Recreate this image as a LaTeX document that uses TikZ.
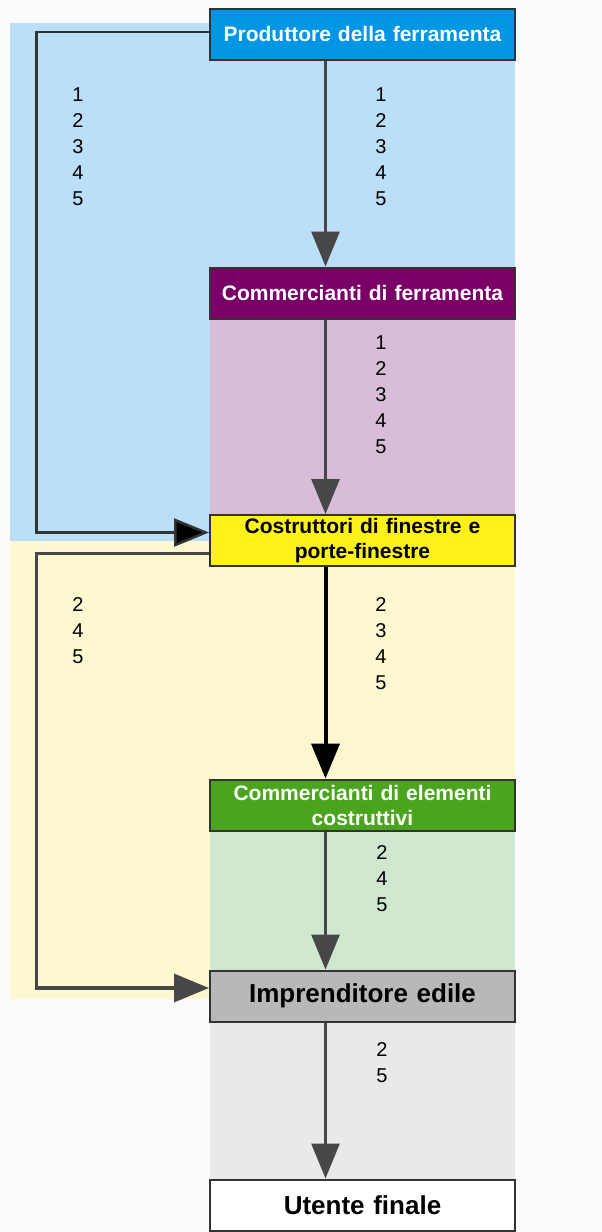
\documentclass[tikz,border=0pt]{standalone}
\usepackage{fontspec}
\setmainfont{Liberation Sans}
\usetikzlibrary{arrows.meta}
\definecolor{pageback}{HTML}{FBFBFB}
\definecolor{boxline}{HTML}{333333}
\definecolor{arrowgray}{HTML}{474747}
\definecolor{prodblue}{HTML}{0096E6}
\definecolor{prodlight}{HTML}{BBDEF9}
\definecolor{commpurple}{HTML}{7A0068}
\definecolor{commlight}{HTML}{D9BDD8}
\definecolor{costryellow}{HTML}{FFF21C}
\definecolor{costrlight}{HTML}{FDF8CF}
\definecolor{elemgreen}{HTML}{4AA41E}
\definecolor{elemlight}{HTML}{CFE6CF}
\definecolor{imprgray}{HTML}{B8B8B8}
\definecolor{imprlight}{HTML}{E9E9E9}
\tikzset{
  chainbox/.style={draw=boxline,line width=2pt,minimum width=305pt,minimum height=51pt,
    align=center,text width=295pt,inner sep=0pt,font=\fontsize{21}{25}\selectfont\bfseries},
  bigbox/.style={chainbox,font=\fontsize{26}{30}\selectfont\bfseries},
  flow/.style={arrowgray,line width=3pt,-{Triangle[length=35pt,width=28pt]}},
  digits/.style={align=center,inner sep=0pt,font=\fontsize{20}{26}\selectfont}
}

\begin{document}
\begin{tikzpicture}[x=1pt,y=-1pt]
  \useasboundingbox (0,0) rectangle (602,1232);
  \fill[pageback] (0,0) rectangle (602,1232);
  % coloured bands
  \fill[prodlight] (10,23) rectangle (515,541);
  \fill[commlight] (210,318) rectangle (515,515);
  \fill[costrlight] (10,541) rectangle (210,999);
  \fill[costrlight] (210,541) rectangle (515,780);
  \fill[elemlight] (210,830) rectangle (515,971);
  \fill[imprlight] (210,1022) rectangle (515,1180);

  \node[chainbox,fill=prodblue,text=white] (prod) at (362.5,34) {Produttore della ferramenta};
  \node[chainbox,fill=commpurple,text=white] (commf) at (362.5,293) {Commercianti di ferramenta};
  \node[chainbox,fill=costryellow] (costr) at (362.5,540.5) {Costruttori di finestre e\\porte-finestre};
  \node[chainbox,fill=elemgreen,text=white] (comme) at (362.5,805) {Commercianti di elementi\\costruttivi};
  \node[bigbox,fill=imprgray] (impr) at (362.5,996) {Imprenditore edile};
  \node[bigbox,fill=white] (utente) at (362.5,1205) {Utente finale};

  \coordinate (lft) at (36.5,0);

  \draw[flow] ([xshift=-37pt]prod.south) -- ([xshift=-37pt]commf.north);
  \draw[flow] ([xshift=-37pt]commf.south) -- ([xshift=-37pt]costr.north);
  \draw[flow,black,line width=4pt] ([xshift=-37pt]costr.south) -- ([xshift=-37pt]comme.north);
  \draw[flow] ([xshift=-37pt]comme.south) -- ([xshift=-37pt]impr.north);
  \draw[flow] ([xshift=-37pt]impr.south) -- ([xshift=-37pt]utente.north);
  \draw[flow,boxline,line width=2.5pt,-{Triangle[length=35pt,width=28pt,fill=black]}]
    ([yshift=2pt]prod.west) -- ([yshift=2pt]prod.west -| lft) |- ([yshift=8pt]costr.west);
  \draw[flow,line width=3.5pt]
    ([yshift=-13pt]costr.west) -- ([yshift=-13pt]costr.west -| lft) |- ([yshift=8pt]impr.west);

  % product numbers
  \node[digits] (nprodl) at (78,147) {1\\2\\3\\4\\5};
  \node[digits] (nprodr) at (381,147) {1\\2\\3\\4\\5};
  \node[digits] (ncommf) at (381,395) {1\\2\\3\\4\\5};
  \node[digits] (ncostrl) at (78,631) {2\\4\\5};
  \node[digits] (ncostrr) at (381,644) {2\\3\\4\\5};
  \node[digits] (ncomme) at (382,879) {2\\4\\5};
  \node[digits] (nimpr) at (382,1063) {2\\5};
\end{tikzpicture}
\end{document}
